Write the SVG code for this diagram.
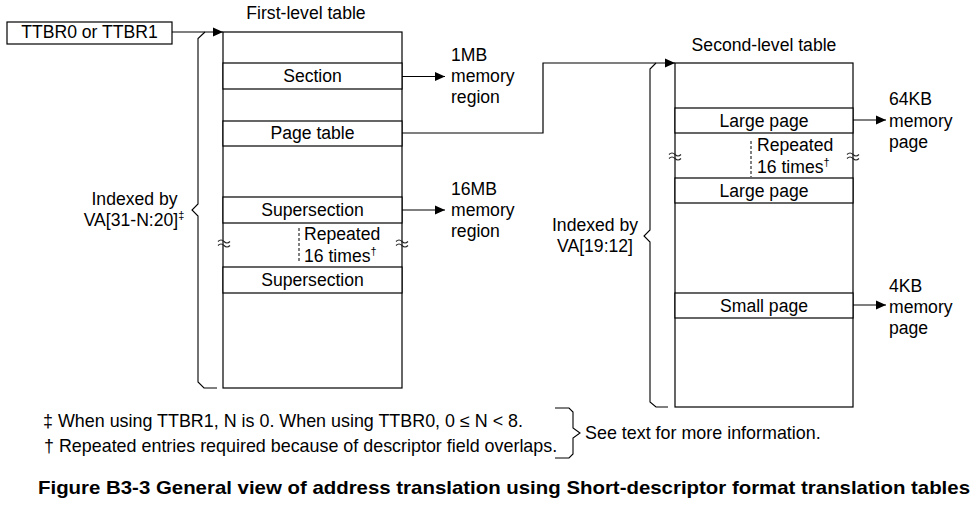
<svg xmlns="http://www.w3.org/2000/svg" width="974" height="513" viewBox="0 0 974 513">
<defs>
<style>
.t{font-family:"Liberation Sans",Arial,Helvetica,sans-serif;font-size:17.6px;fill:#000}
.fn{font-size:17.9px}
.m{text-anchor:middle}
.box{fill:#fff;stroke:#000;stroke-width:1.2}
.ln{fill:none;stroke:#000;stroke-width:1.2}
.br{fill:none;stroke:#000;stroke-width:1.1}
.dash{fill:none;stroke:#000;stroke-width:1;stroke-dasharray:3,2}
.brk{fill:none;stroke:#222;stroke-width:1.1}
.cap{font-family:"Liberation Sans",Arial,Helvetica,sans-serif;font-size:19px;font-weight:bold;fill:#000}
</style>
<marker id="ah" markerUnits="userSpaceOnUse" markerWidth="10" markerHeight="10" refX="10" refY="5" orient="auto">
<path d="M0,0.5 L10,5 L0,9.5 z" fill="#000"/>
</marker>
<g id="brkmark">
<path d="M-6,-1.5 q3,-3 6,0 t6,0" class="brk"/>
<path d="M-6,2.5 q3,-3 6,0 t6,0" class="brk"/>
</g>
</defs>
<rect width="974" height="513" fill="#fff"/>

<g id="ttbr">
<rect class="box" x="7" y="22" width="165" height="22"/>
<text class="t m" x="89.5" y="38">TTBR0 or TTBR1</text>
</g>

<g id="first-level-table">
<text class="t m" x="306" y="19">First-level table</text>
<rect class="box" x="223" y="32" width="179" height="356"/>
<rect class="box" x="223" y="63" width="179" height="26"/>
<rect class="box" x="223" y="121" width="179" height="25"/>
<rect class="box" x="223" y="197" width="179" height="26"/>
<rect class="box" x="223" y="267" width="179" height="26"/>
<text class="t m" x="312.5" y="82">Section</text>
<text class="t m" x="312.5" y="139">Page table</text>
<text class="t m" x="312.5" y="216">Supersection</text>
<text class="t m" x="312.5" y="286">Supersection</text>
<path class="dash" d="M299,228 V262"/>
<text class="t" x="304" y="240">Repeated</text>
<text class="t" x="304" y="262">16 times<tspan font-size="11" dy="-7">†</tspan></text>
<use href="#brkmark" x="224" y="243"/>
<use href="#brkmark" x="402" y="243"/>
</g>

<g id="second-level-table">
<text class="t m" x="764" y="51">Second-level table</text>
<rect class="box" x="675" y="63" width="178" height="344"/>
<rect class="box" x="675" y="108" width="178" height="25"/>
<rect class="box" x="675" y="178" width="178" height="25"/>
<rect class="box" x="675" y="293" width="178" height="25"/>
<text class="t m" x="764" y="127">Large page</text>
<text class="t m" x="764" y="197">Large page</text>
<text class="t m" x="764" y="312">Small page</text>
<path class="dash" d="M751,141 V177"/>
<text class="t" x="757" y="151">Repeated</text>
<text class="t" x="757" y="173">16 times<tspan font-size="11" dy="-7">†</tspan></text>
<use href="#brkmark" x="675" y="156"/>
<use href="#brkmark" x="853" y="156"/>
</g>

<g id="region-1mb">
<text class="t" x="451" y="61">1MB</text>
<text class="t" x="451" y="82">memory</text>
<text class="t" x="451" y="103">region</text>
</g>
<g id="region-16mb">
<text class="t" x="451" y="195">16MB</text>
<text class="t" x="451" y="216">memory</text>
<text class="t" x="451" y="237">region</text>
</g>
<g id="page-64kb">
<text class="t" x="889" y="105">64KB</text>
<text class="t" x="889" y="127">memory</text>
<text class="t" x="889" y="148">page</text>
</g>
<g id="page-4kb">
<text class="t" x="889" y="292">4KB</text>
<text class="t" x="889" y="313">memory</text>
<text class="t" x="889" y="334">page</text>
</g>

<g id="index-first">
<path class="br" d="M205,32 L198,38.5 L198,204 L192,210 L198,216 L198,382 L204,388 L217,388"/>
<text class="t m" x="134.5" y="205">Indexed by</text>
<text class="t m" x="134" y="226">VA[31-N:20]<tspan font-size="11" dy="-7">‡</tspan></text>
</g>
<g id="index-second">
<path class="br" d="M656,63 L650,69 L650,230 L644,236 L650,242 L650,402 L656,407 L668,407"/>
<text class="t m" x="595" y="231">Indexed by</text>
<text class="t m" x="595" y="252">VA[19:12]</text>
</g>

<g id="connectors">
<path class="ln" d="M172,32 H223" marker-end="url(#ah)"/>
<path class="ln" d="M402,76.5 H445" marker-end="url(#ah)"/>
<path class="ln" d="M402,133 H543 V63 H675" marker-end="url(#ah)"/>
<path class="ln" d="M402,210 H445" marker-end="url(#ah)"/>
<path class="ln" d="M853,120 H886" marker-end="url(#ah)"/>
<path class="ln" d="M853,305 H886" marker-end="url(#ah)"/>
</g>

<g id="footnotes">
<text class="t fn" x="43" y="427">‡ When using TTBR1, N is 0. When using TTBR0, 0 ≤ N &lt; 8.</text>
<text class="t fn" x="44" y="452">† Repeated entries required because of descriptor field overlaps.</text>
<path class="br" d="M555,408 L569,408 L573,412 L573,428 L580,433 L573,438 L573,454 L569,458 L555,458"/>
<text class="t fn" x="585" y="439">See text for more information.</text>
</g>

<g id="caption">
<text class="cap" x="38" y="494" textLength="932" lengthAdjust="spacingAndGlyphs">Figure B3-3 General view of address translation using Short-descriptor format translation tables</text>
</g>
</svg>
